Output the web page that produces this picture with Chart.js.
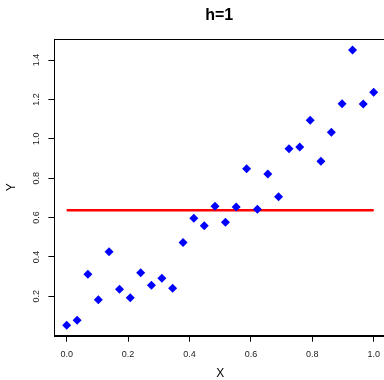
<!DOCTYPE html>
<html>
<head>
<meta charset="utf-8">
<script src="https://cdn.jsdelivr.net/npm/chart.js@4.4.1/dist/chart.umd.min.js"></script>
<style>
    html, body { margin: 0; padding: 0; overflow: hidden; background: #fff; }
    #wrap { width: 392px; height: 380px; position: relative; }
</style>
</head>
<body>
<div id="wrap"><canvas id="chart"></canvas></div>
<script>
// data
const xValues = [0, 0.034, 0.069, 0.103, 0.138, 0.172, 0.207, 0.241, 0.276, 0.310,
                 0.345, 0.379, 0.414, 0.448, 0.483, 0.517, 0.552, 0.586, 0.621, 0.655,
                 0.690, 0.724, 0.759, 0.793, 0.828, 0.862, 0.897, 0.931, 0.966, 1.0];
const yValues = [0.053, 0.079, 0.312, 0.182, 0.427, 0.236, 0.193, 0.320, 0.256, 0.292,
                 0.241, 0.473, 0.596, 0.559, 0.657, 0.576, 0.654, 0.848, 0.642, 0.821,
                 0.706, 0.950, 0.958, 1.094, 0.886, 1.033, 1.178, 1.451, 1.177, 1.236];
const fitLevel = 0.637;
const xTicks = [0, 0.2, 0.4, 0.6, 0.8, 1.0];
const yTicks = [0.2, 0.4, 0.6, 0.8, 1.0, 1.2, 1.4];
const chartTitle = 'h=1';

const FONT = '"Liberation Sans", Arial, Helvetica, sans-serif';

const points = xValues.map((x, i) => ({ x: x, y: yValues[i] }));
const fitLine = [{ x: xValues[0], y: fitLevel }, { x: xValues[xValues.length - 1], y: fitLevel }];

// box around the plot + bold title, R style
const framePlugin = {
    id: 'frame',
    afterDraw(chart) {
        const ctx = chart.ctx;
        const a = chart.chartArea;
        ctx.save();
        ctx.strokeStyle = '#000';
        ctx.lineWidth = 1;
        ctx.strokeRect(Math.round(a.left) + 0.5, Math.round(a.top) + 0.5,
            Math.round(a.right - a.left), Math.round(a.bottom - a.top));
        ctx.fillStyle = '#000';
        ctx.font = 'bold 16px ' + FONT;
        ctx.textAlign = 'center';
        ctx.textBaseline = 'middle';
        ctx.fillText(chartTitle, (a.left + a.right) / 2 - 1, 16);
        ctx.restore();
    }
};

new Chart(document.getElementById('chart'), {
    type: 'scatter',
    data: {
        datasets: [
            {
                data: points,
                pointStyle: 'rectRot',
                pointRadius: 4.5,
                pointHoverRadius: 4.5,
                backgroundColor: '#0000ff',
                borderColor: '#0000ff',
                borderWidth: 0
            },
            {
                type: 'line',
                data: fitLine,
                borderColor: '#ff0000',
                borderWidth: 2.5,
                pointRadius: 0,
                fill: false
            }
        ]
    },
    options: {
        responsive: true,
        maintainAspectRatio: false,
        animation: false,
        layout: { padding: { top: 39, right: 6, left: 0, bottom: 0 } },
        plugins: {
            legend: { display: false },
            tooltip: { enabled: false }
        },
        scales: {
            x: {
                type: 'linear',
                min: -0.04,
                max: 1.04,
                afterBuildTicks: s => { s.ticks = xTicks.map(v => ({ value: v })); },
                afterFit: s => { s.height = 44.3; },
                grid: { display: true, drawOnChartArea: false, tickLength: 6, color: '#000' },
                border: { display: true, color: '#000' },
                ticks: {
                    color: '#222',
                    font: { family: FONT, size: 9 },
                    padding: 7,
                    maxRotation: 0,
                    callback: v => v.toFixed(1)
                },
                title: {
                    display: true,
                    text: 'X',
                    color: '#000',
                    font: { family: FONT, size: 12, lineHeight: 1 },
                    padding: { top: 0, bottom: 0 }
                }
            },
            y: {
                type: 'linear',
                min: 0,
                max: 1.507,
                afterBuildTicks: s => { s.ticks = yTicks.map(v => ({ value: v })); },
                afterFit: s => { s.width = 54.4; },
                grid: { display: true, drawOnChartArea: false, tickLength: 6, color: '#000' },
                border: { display: true, color: '#000' },
                ticks: {
                    color: '#222',
                    font: { family: FONT, size: 9 },
                    padding: 6,
                    minRotation: 90,
                    maxRotation: 90,
                    crossAlign: 'center',
                    callback: v => v.toFixed(1)
                },
                title: {
                    display: true,
                    text: 'Y',
                    color: '#000',
                    font: { family: FONT, size: 12, lineHeight: 1 },
                    padding: { top: 6, bottom: 0 }
                }
            }
        }
    },
    plugins: [framePlugin]
});
</script>
</body>
</html>
